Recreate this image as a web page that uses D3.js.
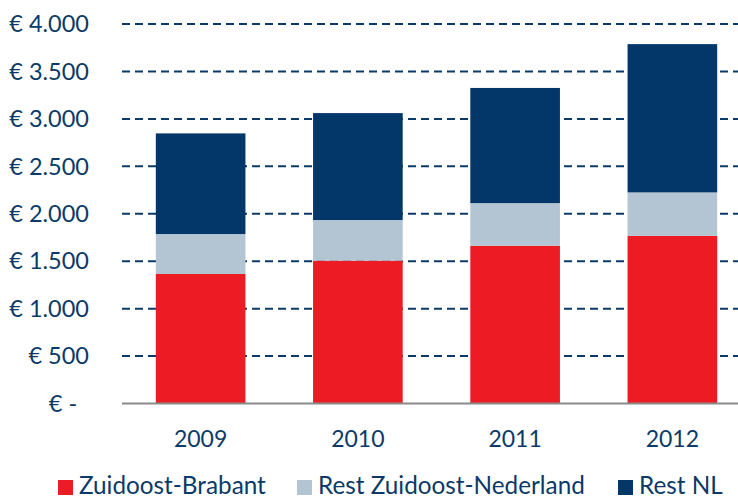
<!DOCTYPE html>
<html>
<head>
<meta charset="utf-8">
<script src="https://cdn.jsdelivr.net/npm/d3@7"></script>
<style>
  html, body { margin: 0; padding: 0; background: #fff; }
  svg { display: block; }
  text { font-family: Lato, "Open Sans", sans-serif; fill: #0B3A68; }
</style>
</head>
<body>
<svg id="chart" width="738" height="502"></svg>
<script>
const years = ["2009", "2010", "2011", "2012"];
const seriesNames = ["Zuidoost-Brabant", "Rest Zuidoost-Nederland", "Rest NL"];
const zuidoostBrabant = [1365, 1505, 1663, 1768];
const restZuidoostNederland = [421, 429, 449, 457];
const restNL = [1061, 1127, 1214, 1563];
const yTicks = [0, 500, 1000, 1500, 2000, 2500, 3000, 3500, 4000];
const colors = ["#ED1C24", "#B3C4D2", "#03376A"];

const W = 738, H = 502;
const svg = d3.select("#chart");

const table = years.map((y, i) => ({
  year: y,
  [seriesNames[0]]: zuidoostBrabant[i],
  [seriesNames[1]]: restZuidoostNederland[i],
  [seriesNames[2]]: restNL[i]
}));
const stacked = d3.stack().keys(seriesNames)(table);

const x = d3.scaleBand().domain(years).range([122, 751]).paddingInner(0.43).paddingOuter(0.215);
const y = d3.scaleLinear().domain([0, 4000]).range([403.5, 24]);

const fmt = v => v === 0 ? "€ -\u2002" : "€ " + d3.format(",")(v).replace(/,/g, ".");

// gridlines
svg.append("g").selectAll("line").data(yTicks.filter(d => d > 0)).join("line")
  .attr("x1", 122).attr("x2", W)
  .attr("y1", d => y(d)).attr("y2", d => y(d))
  .attr("stroke", "#0B3A68").attr("stroke-width", 2)
  .attr("stroke-dasharray", "8,5");

// y labels
svg.append("g").selectAll("text").data(yTicks).join("text")
  .attr("x", 89).attr("y", d => y(d)).attr("dy", "0.35em")
  .attr("text-anchor", "end").attr("font-size", 23.5)
  .style("white-space", "pre")
  .text(fmt);

// bars
svg.append("g").selectAll("g").data(stacked).join("g")
  .attr("fill", (d, i) => colors[i])
  .selectAll("rect").data(d => d).join("rect")
  .attr("x", d => x(d.data.year))
  .attr("width", x.bandwidth())
  .attr("y", d => y(d[1]))
  .attr("height", d => y(d[0]) - y(d[1]));

// baseline
svg.append("line").attr("x1", 122).attr("x2", W)
  .attr("y1", y(0)).attr("y2", y(0))
  .attr("stroke", "#8A8A8A").attr("stroke-width", 2);

// x labels
svg.append("g").selectAll("text").data(years).join("text")
  .attr("x", d => x(d) + x.bandwidth() / 2).attr("y", 447)
  .attr("text-anchor", "middle").attr("font-size", 23)
  .text(d => d);

// legend
const legendX = [58, 297, 618];
const lg = svg.append("g").selectAll("g").data(seriesNames).join("g")
  .attr("transform", (d, i) => `translate(${legendX[i]},0)`);
lg.append("rect").attr("x", 0).attr("y", 480).attr("width", 15).attr("height", 15)
  .attr("fill", (d, i) => colors[i]);
lg.append("text").attr("x", 21).attr("y", 494).attr("font-size", 24.3).text(d => d);
</script>
</body>
</html>
